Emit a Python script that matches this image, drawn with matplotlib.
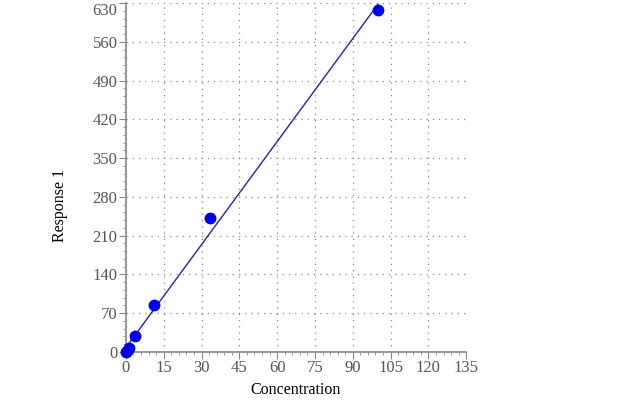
import numpy as np
import matplotlib
matplotlib.use("Agg")
import matplotlib.pyplot as plt
from matplotlib.ticker import AutoMinorLocator

# datos
concentration = [0, 0.41, 1.23, 3.7, 11.1, 33.3, 100]
response = [0, 2, 8, 29, 84, 242, 618]

x_ticks = np.arange(0, 136, 15)
y_ticks = np.arange(0, 631, 70)

plt.rcParams['font.family'] = ['Liberation Serif', 'DejaVu Serif']

fig = plt.figure(figsize=(6.2, 4.11), dpi=100)
ax = fig.add_axes([0.203, 0.1436, 0.549, 0.849])

# ajuste lineal
slope, intercept = np.polyfit(concentration, response, 1)
xs = np.array([min(concentration), max(concentration)])
ax.plot(xs, slope * xs + intercept, color='#2222bb', lw=1, zorder=2, clip_on=False)
ax.plot(concentration, response, 'o', color='#0000ee', markersize=7.5, zorder=3, clip_on=False)

ax.set_xlim(0, 135)
ax.set_ylim(0, 630)
ax.set_xticks(x_ticks)
ax.set_yticks(y_ticks)
ax.xaxis.set_minor_locator(AutoMinorLocator(5))
ax.yaxis.set_minor_locator(AutoMinorLocator(5))
ax.grid(True, which='major', linestyle=(0, (1, 4)), color='#888888', lw=0.9)

for s in ['top', 'right']:
    ax.spines[s].set_visible(False)
for s in ['left', 'bottom']:
    ax.spines[s].set_color('#888888')
    ax.spines[s].set_linewidth(1.2)

ax.tick_params(which='major', length=5, color='#888888', labelsize=12, labelcolor='#555555', pad=1)
ax.tick_params(which='minor', length=2.5, color='#888888')

ax.set_xlabel('Concentration', fontsize=11.5, labelpad=4)
ax.set_ylabel('Response 1', fontsize=11.5)
ax.yaxis.set_label_coords(-0.17, 0.42)

fig.canvas.draw()
ax.get_yticklabels()[-1].set_va('top')

plt.savefig('out.png', dpi=100)
